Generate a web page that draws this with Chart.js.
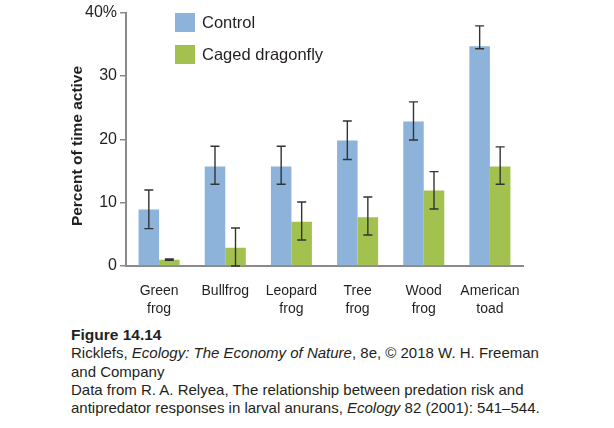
<!DOCTYPE html>
<html>
<head>
<meta charset="utf-8">
<script src="https://cdn.jsdelivr.net/npm/chart.js@4"></script>
<style>
  body { margin: 0; background: #fff; font-family: "Liberation Sans", Arial, sans-serif; color: #231f20; }
  #wrap { position: relative; width: 614px; height: 428px; }
  canvas { position: absolute; left: 0; top: 0; }
  .key { position: absolute; left: 175px; width: 20px; height: 19px; }
  .keytxt { position: absolute; left: 202px; font-size: 16.5px; line-height: 19px; }
  #ytitle { position: absolute; left: 77px; top: 146px; width: 200px; margin-left: -100px; margin-top: -10px;
            height: 20px; line-height: 20px; text-align: center; font-weight: bold; font-size: 15.5px;
            transform: rotate(-90deg); white-space: nowrap; }
  #caption { position: absolute; left: 71px; top: 326px; font-size: 15px; line-height: 18.3px; white-space: nowrap; }
  #caption b { font-size: 15.5px; }
</style>
</head>
<body>
<div id="wrap">
  <canvas id="graph_frogs" width="614" height="326"></canvas>
  <div id="ytitle">Percent of time active</div>
  <div class="key" style="top:13px;background:#8db3da"></div>
  <div class="keytxt" style="top:13px">Control</div>
  <div class="key" style="top:45px;background:#a3c14e"></div>
  <div class="keytxt" style="top:45px">Caged dragonfly</div>
  <div id="caption">
    <b>Figure 14.14</b><br>
    Ricklefs, <i>Ecology: The Economy of Nature</i>, 8e, © 2018 W. H. Freeman<br>
    and Company<br>
    Data from R. A. Relyea, The relationship between predation risk and<br>
    antipredator responses in larval anurans, <i>Ecology</i> 82 (2001): 541–544.
  </div>
</div>
<script>
var species = [["Green", "frog"], "Bullfrog", ["Leopard", "frog"], ["Tree", "frog"], ["Wood", "frog"], ["American", "toad"]];
var control = [8.9, 15.7, 15.7, 19.8, 22.8, 34.7];
var controlLow = [5.9, 12.9, 12.9, 16.8, 19.9, 34.3];
var controlHigh = [12.0, 18.9, 18.9, 22.9, 25.9, 37.9];
var caged = [1.0, 2.9, 7.0, 7.7, 11.9, 15.7];
var cagedLow = [0.9, 0, 4.1, 4.9, 9.0, 12.9];
var cagedHigh = [1.1, 6.0, 10.1, 10.9, 14.9, 18.8];
var yTicks = [0, 10, 20, 30, 40];
var yTickLabels = ["0", "10", "20", "30", "40%"];

// error bars drawn on top of the bars
var errorBars = {
    id: 'errorBars',
    afterDatasetsDraw: function(chart) {
        var ctx = chart.ctx;
        var y = chart.scales.y;
        ctx.save();
        ctx.strokeStyle = "#333";
        ctx.lineWidth = 1.4;
        chart.data.datasets.forEach(function(ds, i) {
            var meta = chart.getDatasetMeta(i);
            meta.data.forEach(function(bar, j) {
                var top = y.getPixelForValue(ds.errHigh[j]);
                var bot = y.getPixelForValue(ds.errLow[j]);
                ctx.beginPath();
                ctx.moveTo(bar.x, top); ctx.lineTo(bar.x, bot);
                ctx.moveTo(bar.x - 4.5, top); ctx.lineTo(bar.x + 4.5, top);
                ctx.moveTo(bar.x - 4.5, bot); ctx.lineTo(bar.x + 4.5, bot);
                ctx.stroke();
            });
        });
        ctx.restore();
    }
};

var ctx = document.getElementById("graph_frogs");

var myChart = new Chart(ctx, {
    type: 'bar',
    data: {
        labels: species,
        datasets: [{
            label: "Control",
            backgroundColor: "#8db3da",
            data: control,
            errLow: controlLow,
            errHigh: controlHigh
        }, {
            label: "Caged dragonfly",
            backgroundColor: "#a3c14e",
            data: caged,
            errLow: cagedLow,
            errHigh: cagedHigh
        }]
    },
    plugins: [errorBars],
    options: {
        responsive: false,
        animation: false,
        categoryPercentage: 0.62,
        barPercentage: 1.0,
        plugins: {
            legend: { display: false },
            tooltip: { enabled: false }
        },
        layout: {
            padding: { left: 0, right: 91, top: 10, bottom: 0 }
        },
        scales: {
            x: {
                grid: { display: false },
                border: { color: "#8a8a8a", width: 2 },
                ticks: {
                    color: "#231f20",
                    font: { family: "Liberation Sans", size: 14, lineHeight: 1.3 },
                    padding: 8,
                    maxRotation: 0
                },
                afterFit: function(scale) { scale.height = 60; }
            },
            y: {
                min: 0,
                max: 40,
                afterBuildTicks: function(scale) {
                    scale.ticks = yTicks.map(function(v) { return { value: v }; });
                },
                ticks: {
                    color: "#231f20",
                    font: { family: "Liberation Sans", size: 16 },
                    padding: 3,
                    callback: function(v) { return yTickLabels[yTicks.indexOf(v)]; }
                },
                grid: {
                    drawOnChartArea: false,
                    tickLength: 6,
                    color: "#8a8a8a",
                    lineWidth: 1.5
                },
                border: { color: "#8a8a8a", width: 2 },
                afterFit: function(scale) { scale.width = 126; }
            }
        }
    }
});
</script>
</body>
</html>
